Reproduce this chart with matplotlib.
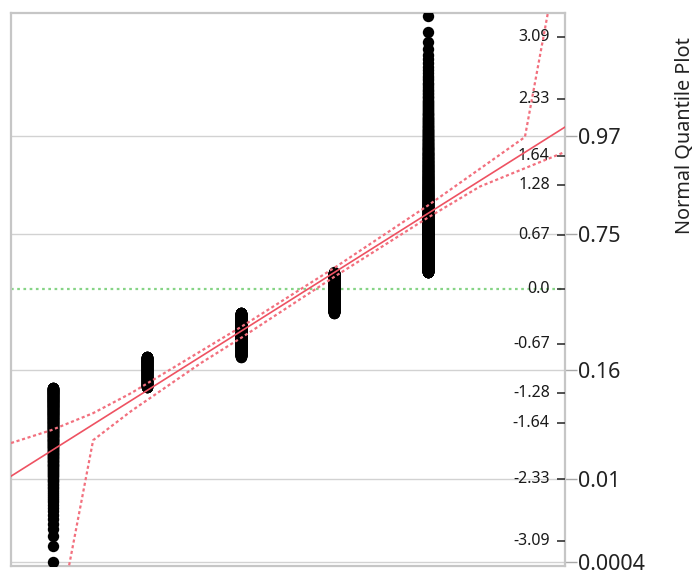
import matplotlib
matplotlib.use('Agg')
import matplotlib.pyplot as plt
import numpy as np
from statistics import NormalDist

plt.rcParams['font.family'] = ['Noto Sans', 'DejaVu Sans']

# response levels and how many observations sit at each
levels = [1, 2, 3, 4, 5]
counts = [283, 225, 456, 489, 1047]

# inner normal-quantile scale
quantile_ticks = [3.09, 2.33, 1.64, 1.28, 0.67, 0.0, -0.67, -1.28, -1.64, -2.33, -3.09]
quantile_labels = ['3.09', '2.33', '1.64', '1.28', '0.67', '0.0',
                   '-0.67', '-1.28', '-1.64', '-2.33', '-3.09']

# outer probability scale
prob_ticks = [0.97, 0.75, 0.16, 0.01, 0.0004]
prob_labels = ['0.97', '0.75', '0.16', '0.01', '0.0004']

# confidence band curves (value, normal quantile)
band_upper_x = [0.55, 0.979, 1.426, 1.830, 2.574, 3.0, 4.011, 4.989, 6.032, 6.277]
band_upper_z = [-1.89, -1.732, -1.523, -1.278, -0.762, -0.467, 0.270, 1.020, 1.867, 3.391]
band_lower_x = [1.170, 1.426, 1.830, 2.574, 3.0, 4.011, 4.989, 5.553, 6.457]
band_lower_z = [-3.391, -1.855, -1.499, -0.909, -0.602, 0.160, 0.872, 1.26, 1.683]

nd = NormalDist()
values = np.repeat(levels, counts)
n = len(values)
zq = np.array([nd.inv_cdf(i / (n + 1)) for i in range(1, n + 1)])

mu = values.mean()
sigma = values.std(ddof=1)

xlim = (0.55, 6.46)
ylim = (-3.40, 3.39)

red = '#ee5262'
band_red = '#f2707e'
frame = '#c6c6c6'

fig = plt.figure(figsize=(6.98, 5.73), dpi=100)
ax = fig.add_axes([0.0158, 0.0122, 0.7937, 0.9651])
# quantile ticks sit on a twin axis inside the frame
ax2 = ax.twinx()

ax.axhline(0, color='#86d486', lw=1.6, ls=(0, (1.2, 1.6)), zorder=1)
ax.plot(values, zq, 'o', color='black', ms=8.2, mew=0, zorder=3)

xs = np.array(xlim)
ax.plot(xs, (xs - mu) / sigma, color=red, lw=1.2, zorder=4)
ax.plot(band_upper_x, band_upper_z, color=band_red, lw=1.6, ls=(0, (1.4, 1.2)), zorder=4)
ax.plot(band_lower_x, band_lower_z, color=band_red, lw=1.6, ls=(0, (1.4, 1.2)), zorder=4)

ax.set_xlim(xlim)
ax.set_ylim(ylim)
ax.set_xticks([])

# probability ticks outside on the right, with gridlines
ax.yaxis.tick_right()
ax.set_yticks([nd.inv_cdf(p) for p in prob_ticks])
ax.set_yticklabels(prob_labels)
ax.tick_params(axis='y', direction='out', length=8.6, width=1, color='#a8a8a8',
               pad=1, labelsize=15.5, labelcolor='#222222', left=False, labelleft=False)
ax.yaxis.grid(True, color='#d2d2d2', lw=1)
ax.set_axisbelow(True)

for sp in ax.spines.values():
    sp.set_color(frame)
    sp.set_linewidth(1.6)

ax2.set_ylim(ylim)
ax2.set_yticks(quantile_ticks)
ax2.tick_params(axis='y', direction='in', length=6, width=1.2, color='#333333',
                labelright=False, right=True, left=False)
for sp in ax2.spines.values():
    sp.set_visible(False)
for z, lab in zip(quantile_ticks, quantile_labels):
    ax.annotate(lab, xy=(1, z), xycoords=('axes fraction', 'data'),
                xytext=(-11, 0), textcoords='offset points',
                ha='right', va='center', fontsize=11.5, color='#1a1a1a')

fig.text(0.981, 0.764, 'Normal Quantile Plot', rotation=90, ha='center', va='center',
         fontsize=14.3, color='#222222')

fig.savefig('out.png', dpi=100)
